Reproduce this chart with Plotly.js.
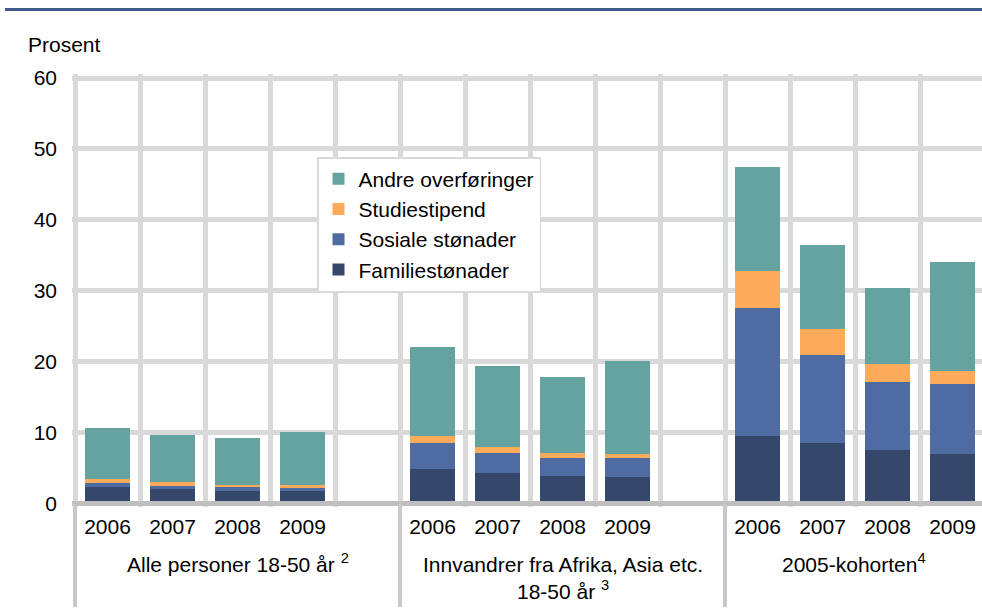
<!DOCTYPE html>
<html>
<head>
<meta charset="utf-8">
<script src="https://cdn.plot.ly/plotly-3.0.1.min.js"></script>
<style>
  html, body { margin: 0; padding: 0; background: #fff; overflow: hidden; }
  #chart { width: 982px; height: 614px; }
</style>
</head>
<body>
<div id="chart"></div>
<script>
// ---- data ----
const years = ['2006', '2007', '2008', '2009'];
const groups = [
  'Alle personer 18-50 år <sup>2</sup>',
  'Innvandrer fra Afrika, Asia etc.<br>18-50 år <sup>3</sup>',
  '2005-kohorten<sup>4</sup>'
];
const seriesNames = ['Familiestønader', 'Sosiale stønader', 'Studiestipend', 'Andre overføringer'];
const familie = [2.33, 2.09, 1.81, 1.76, 4.91, 4.30, 3.92, 3.69, 9.48, 8.58, 7.59, 6.98];
const sosiale = [0.56, 0.42, 0.52, 0.38, 3.67, 2.87, 2.45, 2.68, 18.05, 12.32, 9.55, 9.87];
const studie  = [0.57, 0.52, 0.32, 0.42, 0.98, 0.80, 0.71, 0.61, 5.22, 3.70, 2.54, 1.84];
const andre   = [7.14, 6.63, 6.55, 7.52, 12.54, 11.43, 10.82, 13.12, 14.65, 11.90, 10.72, 15.41];
const yTicks = [0, 10, 20, 30, 40, 50, 60];
const yTitle = 'Prosent';

// ---- styles ----
const colors = ['#35476B', '#4E6CA2', '#FDAA5B', '#65A3A0'];
const FONT = '"Liberation Sans", Arial, sans-serif';
const W = 982, H = 614;
const M = { l: 72, r: 0, t: 74, b: 107 };
const plotW = W - M.l - M.r, plotH = H - M.t - M.b;
const px2x = p => (p - M.l) / plotW;
const px2y = p => (H - M.b - p) / plotH;
const slotsPerGroup = years.length + 1;
const xRange = [-0.5 - 3 / 65, -0.5 + (982 - 75) / 65];

// x positions (one slot per year, one empty slot after each group)
const xs = [], ticktext = [];
groups.forEach((g, gi) => years.forEach((yr, yi) => { xs.push(gi * slotsPerGroup + yi); ticktext.push(yr); }));
const boundaries = [];
for (let i = 0; i <= groups.length * slotsPerGroup; i++) boundaries.push(i - 0.5);

const vals = [familie, sosiale, studie, andre];
const traces = vals.map((v, i) => ({
  type: 'bar', name: seriesNames[i], x: xs, y: v, width: 0.68,
  marker: { color: colors[i], line: { width: 0 } }
}));

const shapes = [];
// horizontal axis line (on top of bars)
shapes.push({ type: 'line', xref: 'paper', yref: 'y', x0: 0, x1: 1, y0: 0, y1: 0,
  line: { color: '#bfbfbf', width: 5 }, layer: 'above' });
// group separators below the axis
groups.forEach((g, gi) => {
  shapes.push({ type: 'line', xref: 'x', yref: 'paper', x0: gi * slotsPerGroup - 0.5, x1: gi * slotsPerGroup - 0.5,
    y0: px2y(504), y1: px2y(607), line: { color: '#c9c9c9', width: 4 } });
});
// top rule
shapes.push({ type: 'line', xref: 'paper', yref: 'paper', x0: px2x(5), x1: 1, y0: px2y(9.5), y1: px2y(9.5),
  line: { color: '#3E5B8C', width: 3 } });

const annotations = [];
annotations.push({ text: yTitle, xref: 'paper', yref: 'paper', x: px2x(26), y: px2y(44),
  xanchor: 'left', yanchor: 'middle', showarrow: false, font: { family: FONT, size: 21, color: '#000' } });
groups.forEach((g, gi) => {
  const twoLines = g.indexOf('<br>') >= 0;
  const start = gi * slotsPerGroup - 0.5;
  const end = Math.min(start + slotsPerGroup, xRange[1]);
  annotations.push({ text: g, xref: 'x', yref: 'paper', x: (start + end) / 2,
    y: px2y(twoLines ? 577.5 : 563), xanchor: 'center', yanchor: 'middle', showarrow: false,
    align: 'center', font: { family: FONT, size: 21, color: '#000' } });
});

const k = (503.5 - 78) / 60;
const layout = {
  width: W, height: H, margin: M,
  paper_bgcolor: '#fff', plot_bgcolor: '#fff',
  barmode: 'stack', hovermode: false, showlegend: true,
  font: { family: FONT, size: 21, color: '#000' },
  xaxis: {
    range: xRange,
    tickvals: xs, ticktext: ticktext, showgrid: false, zeroline: false, ticks: '',
    tickfont: { family: FONT, size: 21, color: '#000' }, ticklabelstandoff: 5,
    minor: { tickvals: boundaries, showgrid: true, gridcolor: '#d9d9d9', gridwidth: 5, ticks: '' },
    fixedrange: true
  },
  yaxis: {
    range: [-(507 - 503.5) / k, 60 + (78 - 74) / k],
    tickvals: yTicks, ticktext: yTicks.map(String), showgrid: true, gridcolor: '#d9d9d9', gridwidth: 5,
    zeroline: false, ticks: '', ticklabelstandoff: 14,
    tickfont: { family: FONT, size: 21, color: '#000' }, fixedrange: true
  },
  legend: {
    x: px2x(317), y: px2y(157), xanchor: 'left', yanchor: 'top',
    bgcolor: '#fff', bordercolor: '#d9d9d9', borderwidth: 1.5, tracegroupgap: 0,
    traceorder: 'reversed', font: { family: FONT, size: 21, color: '#000' }
  },
  shapes: shapes, annotations: annotations
};

Plotly.newPlot('chart', traces, layout, { displayModeBar: false, staticPlot: true });
</script>
</body>
</html>
